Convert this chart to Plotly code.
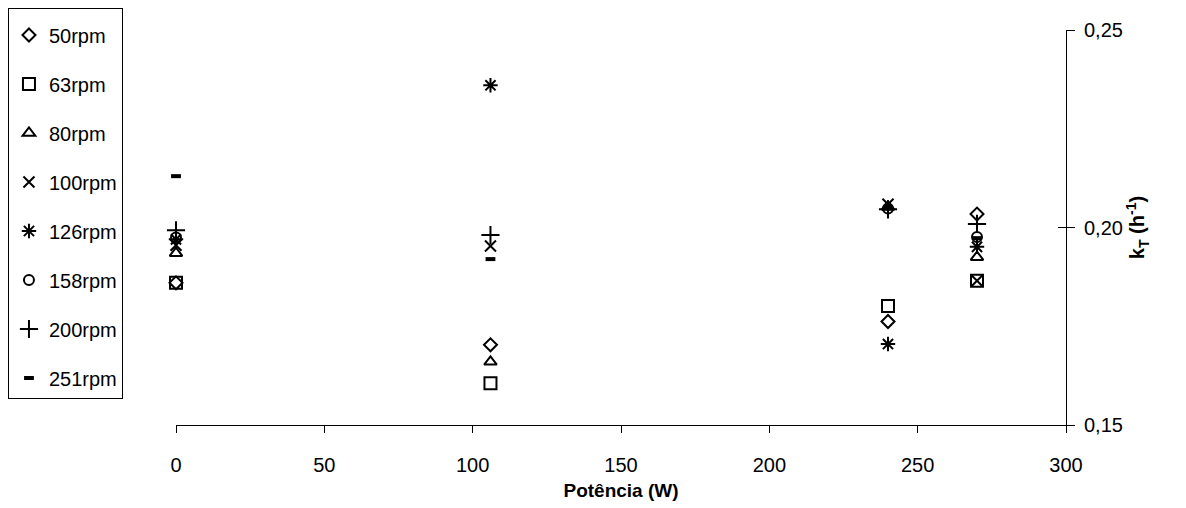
import plotly.graph_objects as go

potencia = [0, 106, 240, 270]
series_names = ["50rpm", "63rpm", "80rpm", "100rpm", "126rpm", "158rpm", "200rpm", "251rpm"]
rpm50 = [0.1860, 0.1703, 0.1762, 0.2034]
rpm63 = [0.1860, 0.1606, 0.1801, 0.1865]
rpm80 = [0.1935, 0.1660, 0.2052, 0.1925]
rpm100 = [0.1955, 0.1953, 0.2059, 0.1865]
rpm126 = [0.1970, 0.2360, 0.1705, 0.1951]
rpm158 = [0.1975, None, 0.2048, 0.1976]
rpm200 = [0.1993, 0.1981, 0.2046, 0.2009]
rpm251 = [0.2130, 0.1920, 0.2050, 0.1973]
x_ticks = [0, 50, 100, 150, 200, 250, 300]
y_ticks = [0.15, 0.20, 0.25]

values = [rpm50, rpm63, rpm80, rpm100, rpm126, rpm158, rpm200, rpm251]
symbols = ["diamond-open", "square-open", "triangle-up-open", "x-thin-open",
           "asterisk-open", "circle-open", "cross-thin-open", "line-ew-open"]
sizes = [10, 12, 11, 11, 12, 10, 13, 7]
widths = [2, 2, 2, 2, 2, 2, 2, 4]

FONT = "Liberation Sans, Arial, sans-serif"

fig = go.Figure()
for name, vals, sym, sz, lw in zip(series_names, values, symbols, sizes, widths):
    fig.add_trace(go.Scatter(
        x=potencia, y=vals, mode="markers", name=name, legendgroup=name,
        cliponaxis=False,
        marker=dict(symbol=sym, size=sz, color="black",
                    line=dict(color="black", width=lw)),
    ))

# overlay axis to draw inner half of cross ticks
fig.add_trace(go.Scatter(x=[None], y=[None], yaxis="y2", showlegend=False, hoverinfo="skip"))

fig.update_layout(
    width=1186, height=508,
    margin=dict(l=176, r=120, t=30, b=83, autoexpand=False),
    paper_bgcolor="white", plot_bgcolor="white",
    separators=", ",
    font=dict(family=FONT, size=20, color="black"),
    showlegend=True,
    legend=dict(
        x=-0.1888, y=1.0557, xanchor="left", yanchor="top",
        bordercolor="black", borderwidth=1, bgcolor="white",
        font=dict(family=FONT, size=20, color="black"),
        tracegroupgap=20, itemwidth=30, maxheight=440,
        title=dict(text=" ", font=dict(size=5)),
    ),
    xaxis=dict(
        range=[0, 300], tickvals=x_ticks, showgrid=False, zeroline=False,
        showline=True, linecolor="black", linewidth=1,
        ticks="outside", ticklen=7, tickcolor="black", ticklabelstandoff=15,
        tickfont=dict(size=20),
        title=dict(text="<b>Potência (W)</b>", font=dict(size=19), standoff=8),
    ),
    yaxis=dict(
        range=[0.15, 0.25], tickvals=y_ticks, tickformat=".2f", side="right",
        showgrid=False, zeroline=False, showline=True, linecolor="black", linewidth=1,
        ticks="outside", ticklen=8, tickcolor="black", ticklabelstandoff=5,
        tickfont=dict(size=20),
        title=dict(text="<b>k<sub>T</sub> (h<sup>-1</sup>)</b>", font=dict(size=20), standoff=6),
    ),
    yaxis2=dict(
        range=[0.15, 0.25], tickvals=y_ticks, overlaying="y", side="right", anchor="x",
        showgrid=False, zeroline=False, showline=False, showticklabels=False,
        ticks="inside", ticklen=8, tickcolor="black",
    ),
)

fig.write_html("out.html")
